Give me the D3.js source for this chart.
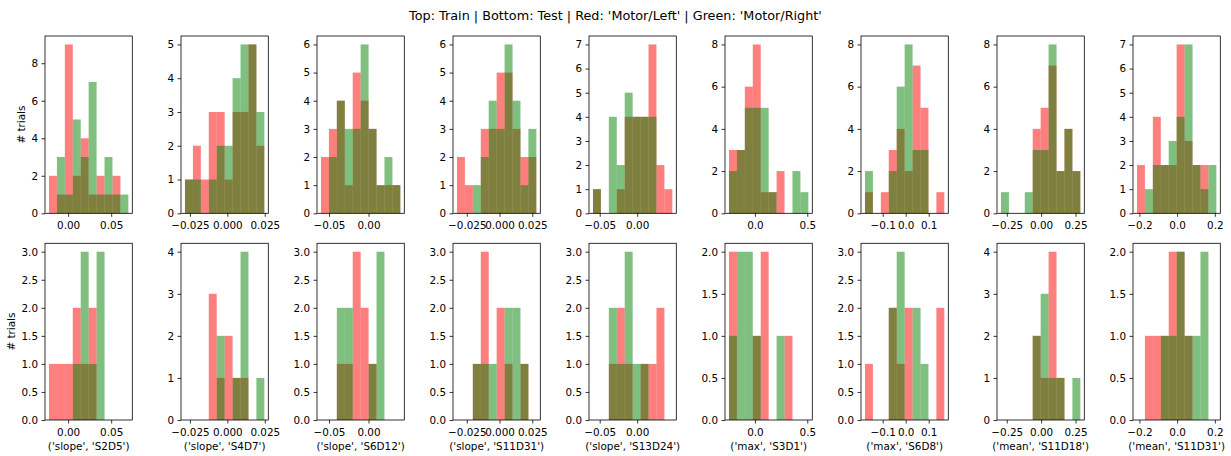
<!DOCTYPE html>
<html>
<head>
<meta charset="utf-8">
<script src="https://cdn.jsdelivr.net/npm/d3@7"></script>
<style>
  html, body { margin: 0; padding: 0; background: #fff; }
  svg text { font-family: "DejaVu Sans", sans-serif; fill: #000; }
</style>
</head>
<body>
<svg id="chart" width="1231" height="456"></svg>
<script>
// ---------------- data ----------------
const title = "Top: Train | Bottom: Test | Red: 'Motor/Left' | Green: 'Motor/Right'";
const yLabel = "# trials";
const features = [
  "('slope', 'S2D5')", "('slope', 'S4D7')", "('slope', 'S6D12')",
  "('slope', 'S11D31')", "('slope', 'S13D24')", "('max', 'S3D1')",
  "('max', 'S6D8')", "('mean', 'S11D18')", "('mean', 'S11D31')"
];
// shared 10-bin range for each feature (min edge, max edge)
const binLo = [-0.0222, -0.0283, -0.0602, -0.0325, -0.0590, -0.248, -0.177, -0.292, -0.213];
const binHi = [0.0699, 0.0247, 0.0403, 0.0281, 0.0469, 0.510, 0.168, 0.285, 0.208];
// counts per bin
const trainLeft = [
  [2,1,9,2,4,1,2,1,2,0],
  [1,2,1,3,3,1,3,3,5,2],
  [2,3,4,1,5,4,3,1,1,1],
  [2,1,0,3,3,5,5,3,2,2],
  [1,0,0,1,4,4,4,7,2,1],
  [3,3,6,8,1,1,2,0,0,0],
  [1,0,1,3,4,2,7,5,0,1],
  [0,0,0,0,4,5,7,2,4,2],
  [2,0,4,2,2,7,3,2,2,0]
];
const trainRight = [
  [0,3,1,5,3,7,1,3,1,1],
  [1,1,0,1,2,2,4,5,5,3],
  [0,2,4,3,3,6,3,1,2,1],
  [0,0,1,2,4,3,6,4,1,3],
  [1,0,4,2,5,4,4,4,0,0],
  [2,3,5,5,5,1,0,0,2,1],
  [2,0,0,2,6,8,3,3,0,0],
  [1,0,0,1,3,3,8,2,4,2],
  [0,1,2,2,3,4,7,2,1,2]
];
const testLeft = [
  [1,1,1,2,1,2,0,0,0,0],
  [0,0,0,3,1,2,1,1,0,0],
  [0,0,1,1,3,2,1,0,0,0],
  [0,0,1,3,0,2,1,0,1,0],
  [0,0,1,2,1,0,1,1,2,0],
  [2,0,0,1,2,0,0,1,0,0],
  [1,0,0,2,1,2,0,0,0,2],
  [0,0,0,0,2,1,4,1,0,0],
  [0,1,1,1,2,2,1,0,0,0]
];
const testRight = [
  [0,0,0,1,3,1,3,0,0,0],
  [0,0,0,0,2,0,1,4,0,1],
  [0,0,2,2,0,0,1,3,0,0],
  [0,0,1,1,1,0,2,2,1,0],
  [0,0,2,1,3,1,1,0,0,0],
  [1,2,2,1,0,0,1,0,0,0],
  [0,0,0,2,3,0,2,1,0,0],
  [0,0,0,0,2,3,1,1,0,1],
  [0,0,0,1,1,2,1,1,2,0]
];
const xTickValues = [
  [0, 0.05], [-0.025, 0, 0.025], [-0.05, 0], [-0.025, 0, 0.025], [-0.05, 0],
  [0, 0.5], [-0.1, 0, 0.1], [-0.25, 0, 0.25], [-0.2, 0, 0.2]
];
const xTickFormats = [".2f", ".3f", ".2f", ".3f", ".2f", ".1f", ".1f", ".2f", ".1f"];

// ---------------- layout ----------------
const axLeft0 = 45, axStep = 136, axW = 87.3;
const rows = [{ top: 36, bottom: 213.3 }, { top: 243.3, bottom: 420 }];
const FS = 10.4;
const tickLen = 3.5, tickPad = 3.5;
const RED = "#ff0000", GREEN = "#008000";

const svg = d3.select("#chart");

svg.append("text")
  .attr("x", 615.5).attr("y", 19.5)
  .attr("text-anchor", "middle")
  .style("font-size", "12.8px")
  .text(title);

function yTicksFor(maxC) {
  const top = maxC * 1.05;
  const step = maxC <= 3 ? 0.5 : (maxC <= 7 ? 1 : 2);
  const t = d3.range(0, top + 1e-9, step);
  return { ticks: t, fmt: step < 1 ? d3.format(".1f") : d3.format("d") };
}

features.forEach((feat, c) => {
  const lo = binLo[c], hi = binHi[c], R = hi - lo;
  const edges = d3.range(11).map(i => lo + R * i / 10);
  const left = axLeft0 + axStep * c;
  const x = d3.scaleLinear().domain([lo - 0.05 * R, hi + 0.05 * R]).range([left, left + axW]);

  [[trainLeft[c], trainRight[c]], [testLeft[c], testRight[c]]].forEach((pair, r) => {
    const row = rows[r];
    const maxC = d3.max(pair.flat());
    const y = d3.scaleLinear().domain([0, maxC * 1.05]).range([row.bottom, row.top]);
    const g = svg.append("g");

    pair.forEach((counts, s) => {
      g.append("g").selectAll("rect")
        .data(counts.map((v, i) => ({ v, x0: edges[i], x1: edges[i + 1] })).filter(d => d.v > 0))
        .join("rect")
        .attr("x", d => x(d.x0))
        .attr("width", d => x(d.x1) - x(d.x0))
        .attr("y", d => y(d.v))
        .attr("height", d => y(0) - y(d.v))
        .attr("fill", s === 0 ? RED : GREEN)
        .attr("fill-opacity", 0.5);
    });

    // axes
    const xf = d3.format(xTickFormats[c]);
    const xa = g.append("g").attr("transform", `translate(0,${row.bottom})`)
      .call(d3.axisBottom(x).tickValues(xTickValues[c]).tickFormat(xf)
        .tickSize(tickLen).tickPadding(tickPad).tickSizeOuter(0));
    xa.selectAll("text").attr("dy", null).attr("y", 16);
    const yt = yTicksFor(maxC);
    const ya = g.append("g").attr("transform", `translate(${left},0)`)
      .call(d3.axisLeft(y).tickValues(yt.ticks).tickFormat(yt.fmt)
        .tickSize(tickLen).tickPadding(tickPad).tickSizeOuter(0));
    [xa, ya].forEach(a => {
      a.select(".domain").remove();
      a.selectAll("line").attr("stroke", "#000").attr("stroke-width", 0.8);
      a.selectAll("text").style("font-size", FS + "px").attr("fill", "#000").style("font-family", "DejaVu Sans");
    });

    // frame
    g.append("rect")
      .attr("x", left).attr("y", row.top)
      .attr("width", axW).attr("height", row.bottom - row.top)
      .attr("fill", "none").attr("stroke", "#000").attr("stroke-width", 0.8);

    if (c === 0) {
      let maxW = 0;
      ya.selectAll("text").each(function () { maxW = Math.max(maxW, this.getComputedTextLength()); });
      const lx = left - tickLen - tickPad - maxW - 4 - 2.4;
      svg.append("text")
        .attr("transform", `translate(${lx},${(row.top + row.bottom) / 2}) rotate(-90)`)
        .attr("text-anchor", "middle")
        .style("font-size", FS + "px")
        .text(yLabel);
    }
    if (r === 1) {
      svg.append("text")
        .attr("x", left + axW / 2).attr("y", row.bottom + 30)
        .attr("text-anchor", "middle")
        .style("font-size", FS + "px")
        .text(feat);
    }
  });
});
</script>
</body>
</html>
